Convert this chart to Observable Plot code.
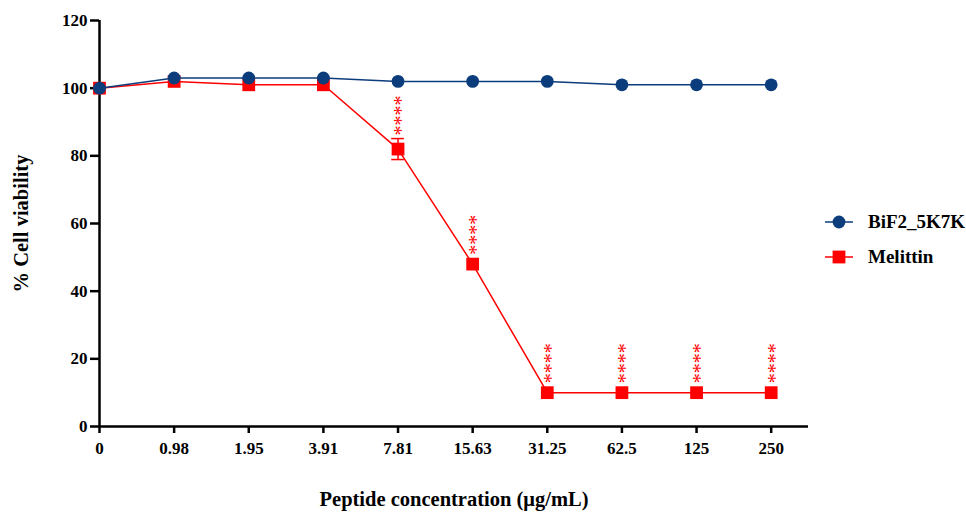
<!DOCTYPE html>
<html><head><meta charset="utf-8">
<script src="https://cdn.jsdelivr.net/npm/d3@7"></script>
<script src="https://cdn.jsdelivr.net/npm/@observablehq/plot@0.6"></script>
<style>
body{margin:0;background:#fff;font-family:"Liberation Serif","Times New Roman",serif;}
#wrap{position:relative;width:966px;height:513px;}
#legend{position:absolute;left:824px;top:204px;font-weight:bold;font-size:19px;color:#000;}
#legend .row{display:flex;align-items:center;height:35px;}
#legend svg{margin-right:14px;}
</style>
</head><body>
<div id="wrap"><div id="chart"></div><div id="legend"></div></div>
<script>
const concLabels = ["0","0.98","1.95","3.91","7.81","15.63","31.25","62.5","125","250"];
const bif2Values = [100,103,103,103,102,102,102,101,101,101];
const melittinValues = [100,102,101,101,82,48,10,10,10,10];
const melittinSD = [0,0,0,0,3.1,0,0,0,0,0];
const melittinSig = ["","","","","****","****","****","****","****","****"];
const seriesNames = ["BiF2_5K7K","Melittin"];
const seriesColors = ["#0b3c7c","#ff0000"];
const yTicks = [0,20,40,60,80,100,120];

const bif2 = bif2Values.map((v,i)=>({i, v}));
const mel = melittinValues.map((v,i)=>({i, v, sd: melittinSD[i], sig: melittinSig[i]}));
const melErr = mel.filter(d => d.sd > 0);
const xTickIdx = d3.range(concLabels.length);

const plot = Plot.plot({
  width: 966, height: 513,
  marginLeft: 99, marginTop: 20, marginBottom: 87, marginRight: 158,
  style: {fontFamily: '"Liberation Serif","Times New Roman",serif', fontWeight: "bold", fontSize: "17px", color: "#000", background: "#fff"},
  x: {domain: [0, 9.5]},
  y: {domain: [0, 120]},
  marks: [
    Plot.axisX({ticks: xTickIdx, tickFormat: i => concLabels[i], tickSize: 7, tickPadding: 8, strokeWidth: 2.5,
      label: "Peptide concentration (μg/mL)", labelAnchor: "center", labelArrow: "none", labelOffset: 79}),
    Plot.axisY({ticks: yTicks, tickSize: 9, tickPadding: 3, strokeWidth: 2.5,
      label: "% Cell viability", labelAnchor: "center", labelArrow: "none", labelOffset: 86}),
    Plot.ruleX([0], {stroke: "#000", strokeWidth: 2.5}),
    Plot.ruleY([0], {stroke: "#000", strokeWidth: 2.5}),
    // Melittin
    Plot.ruleX(melErr, {x: "i", y1: d => d.v - d.sd, y2: d => d.v + d.sd, stroke: seriesColors[1], strokeWidth: 1.5}),
    Plot.ruleY(melErr, {y: d => d.v + d.sd, x1: d => d.i - 0.085, x2: d => d.i + 0.085, stroke: seriesColors[1], strokeWidth: 1.5}),
    Plot.ruleY(melErr, {y: d => d.v - d.sd, x1: d => d.i - 0.085, x2: d => d.i + 0.085, stroke: seriesColors[1], strokeWidth: 1.5}),
    Plot.line(mel, {x: "i", y: "v", stroke: seriesColors[1], strokeWidth: 1.5}),
    Plot.dot(mel, {x: "i", y: "v", symbol: "square", r: 7.2, fill: seriesColors[1], stroke: "none"}),
    Plot.text(mel.filter(d => d.sig), {x: "i", y: d => d.v + Math.max(d.sd, 1.9) + 0.9, text: "sig",
      rotate: -90, textAnchor: "start", lineAnchor: "middle", dx: 4, fill: seriesColors[1], fontSize: 20, fontWeight: "normal"}),
    // BiF2
    Plot.line(bif2, {x: "i", y: "v", stroke: seriesColors[0], strokeWidth: 1.5}),
    Plot.dot(bif2, {x: "i", y: "v", symbol: "circle", r: 6.4, fill: seriesColors[0], stroke: "none"})
  ]
});
plot.querySelectorAll('[aria-label="x-axis label"] text, [aria-label="y-axis label"] text').forEach(t => t.setAttribute("font-size", "20.5"));
document.getElementById("chart").appendChild(plot);

const legend = document.getElementById("legend");
seriesNames.forEach((name, k) => {
  const row = document.createElement("div"); row.className = "row";
  const marker = k === 0
    ? `<circle cx="15" cy="10" r="6.4" fill="${seriesColors[k]}"/>`
    : `<rect x="8.6" y="3.6" width="12.8" height="12.8" fill="${seriesColors[k]}"/>`;
  row.innerHTML = `<svg width="30" height="20"><line x1="1" x2="29" y1="10" y2="10" stroke="${seriesColors[k]}" stroke-width="1.5"/>${marker}</svg><span>${name}</span>`;
  legend.appendChild(row);
});
</script>
</body></html>
